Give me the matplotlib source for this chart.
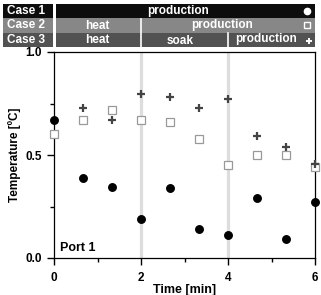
import matplotlib
matplotlib.use("Agg")
import matplotlib.pyplot as plt
from matplotlib.patches import Rectangle
from matplotlib.ticker import MultipleLocator

plt.rcParams['font.family'] = ['Liberation Sans', 'DejaVu Sans']
plt.rcParams['font.weight'] = 'bold'

time = [0, 2/3, 4/3, 2, 8/3, 10/3, 4, 14/3, 16/3, 6]
case1 = [0.67, 0.39, 0.345, 0.19, 0.34, 0.14, 0.11, 0.29, 0.09, 0.27]
case2 = [0.60, 0.67, 0.72, 0.67, 0.66, 0.58, 0.45, 0.50, 0.50, 0.44]
time3 = [2/3, 4/3, 2, 8/3, 10/3, 4, 14/3, 16/3, 6]
case3 = [0.73, 0.67, 0.795, 0.78, 0.73, 0.77, 0.59, 0.54, 0.455]
phase_bounds = [2, 4]
case_labels = ['Case 1', 'Case 2', 'Case 3']

W, H = 321, 295
fig = plt.figure(figsize=(W/100, H/100), dpi=100)

def px(x0, y0, x1, y1):
    return [x0/W, 1 - y1/H, (x1-x0)/W, (y1-y0)/H]

ax = fig.add_axes(px(54, 52, 315, 258))
ax.set_xlim(0, 6)
ax.set_ylim(0, 1)
for b in phase_bounds:
    ax.axvline(b, color='#dddddd', lw=2.3, zorder=0)

ax.plot(time, case1, 'o', color='black', ms=5.4, clip_on=False, zorder=3)
ax.plot(time, case2, 's', mfc='white', mec='#999999', mew=0.9, ms=5.4, clip_on=False, zorder=3)
ax.plot(time3, case3, '+', color='#444444', mew=1.6, ms=6, clip_on=False, zorder=4)

ax.xaxis.set_major_locator(MultipleLocator(2))
ax.xaxis.set_minor_locator(MultipleLocator(1))
ax.yaxis.set_major_locator(MultipleLocator(0.5))
ax.yaxis.set_minor_locator(MultipleLocator(0.25))
ax.tick_params(which='major', length=5, width=1, labelsize=8.5)
ax.tick_params(axis='x', which='major', pad=5)
ax.tick_params(axis='y', which='major', pad=4)
ax.tick_params(which='minor', length=3, width=1)
for lab in ax.get_xticklabels() + ax.get_yticklabels():
    lab.set_fontweight('bold')
for s in ax.spines.values():
    s.set_linewidth(0.9)
ax.set_xlabel('Time [min]', fontsize=9, fontweight='bold', labelpad=0)
ax.set_ylabel('Temperature [ºC]', fontsize=8.5, fontweight='bold', labelpad=3)
ax.text(0.14, 0.05, 'Port 1', fontsize=9, fontweight='bold', va='center', ha='left')

# banner
bx = fig.add_axes(px(56, 4, 315, 47))
bx.set_xlim(2/43.5, 6)
bx.set_ylim(3, 0)
bx.axis('off')
row_colors = ['#0d0d0d', '#878787', '#525252']
for i, c in enumerate(row_colors):
    bx.add_patch(Rectangle((0, i), 7, 1, color=c, lw=0))
bx.plot([2, 2], [1.05, 3], color='white', lw=1.2)
bx.plot([4, 4], [2.05, 3], color='white', lw=1.2)
tkw = dict(color='white', fontsize=8.5, fontweight='bold', ha='center', va='center')
bx.text(2.85, 0.5, 'production', **tkw)
bx.text(1.0, 1.55, 'heat', **tkw)
bx.text(3.86, 1.5, 'production', **tkw)
bx.text(1.0, 2.5, 'heat', **tkw)
bx.text(2.9, 2.55, 'soak', **tkw)
bx.text(4.87, 2.45, 'production', **tkw)
bx.plot(5.82, 0.5, 'o', color='white', ms=4.5)
bx.plot(5.82, 1.5, 's', mfc='#878787', mec='white', mew=1.0, ms=4)
bx.plot(5.86, 2.55, '+', color='white', mew=1.4, ms=5)

lx = fig.add_axes(px(3, 4, 53, 47))
lx.set_xlim(0, 1)
lx.set_ylim(3, 0)
lx.axis('off')
for i, (c, t) in enumerate(zip(row_colors, case_labels)):
    lx.add_patch(Rectangle((0, i), 1, 1, color=c, lw=0))
    lx.text(0.08, i + 0.5, t, color='white', fontsize=8.5, fontweight='bold', ha='left', va='center')

fig.savefig('out.png', dpi=100)
